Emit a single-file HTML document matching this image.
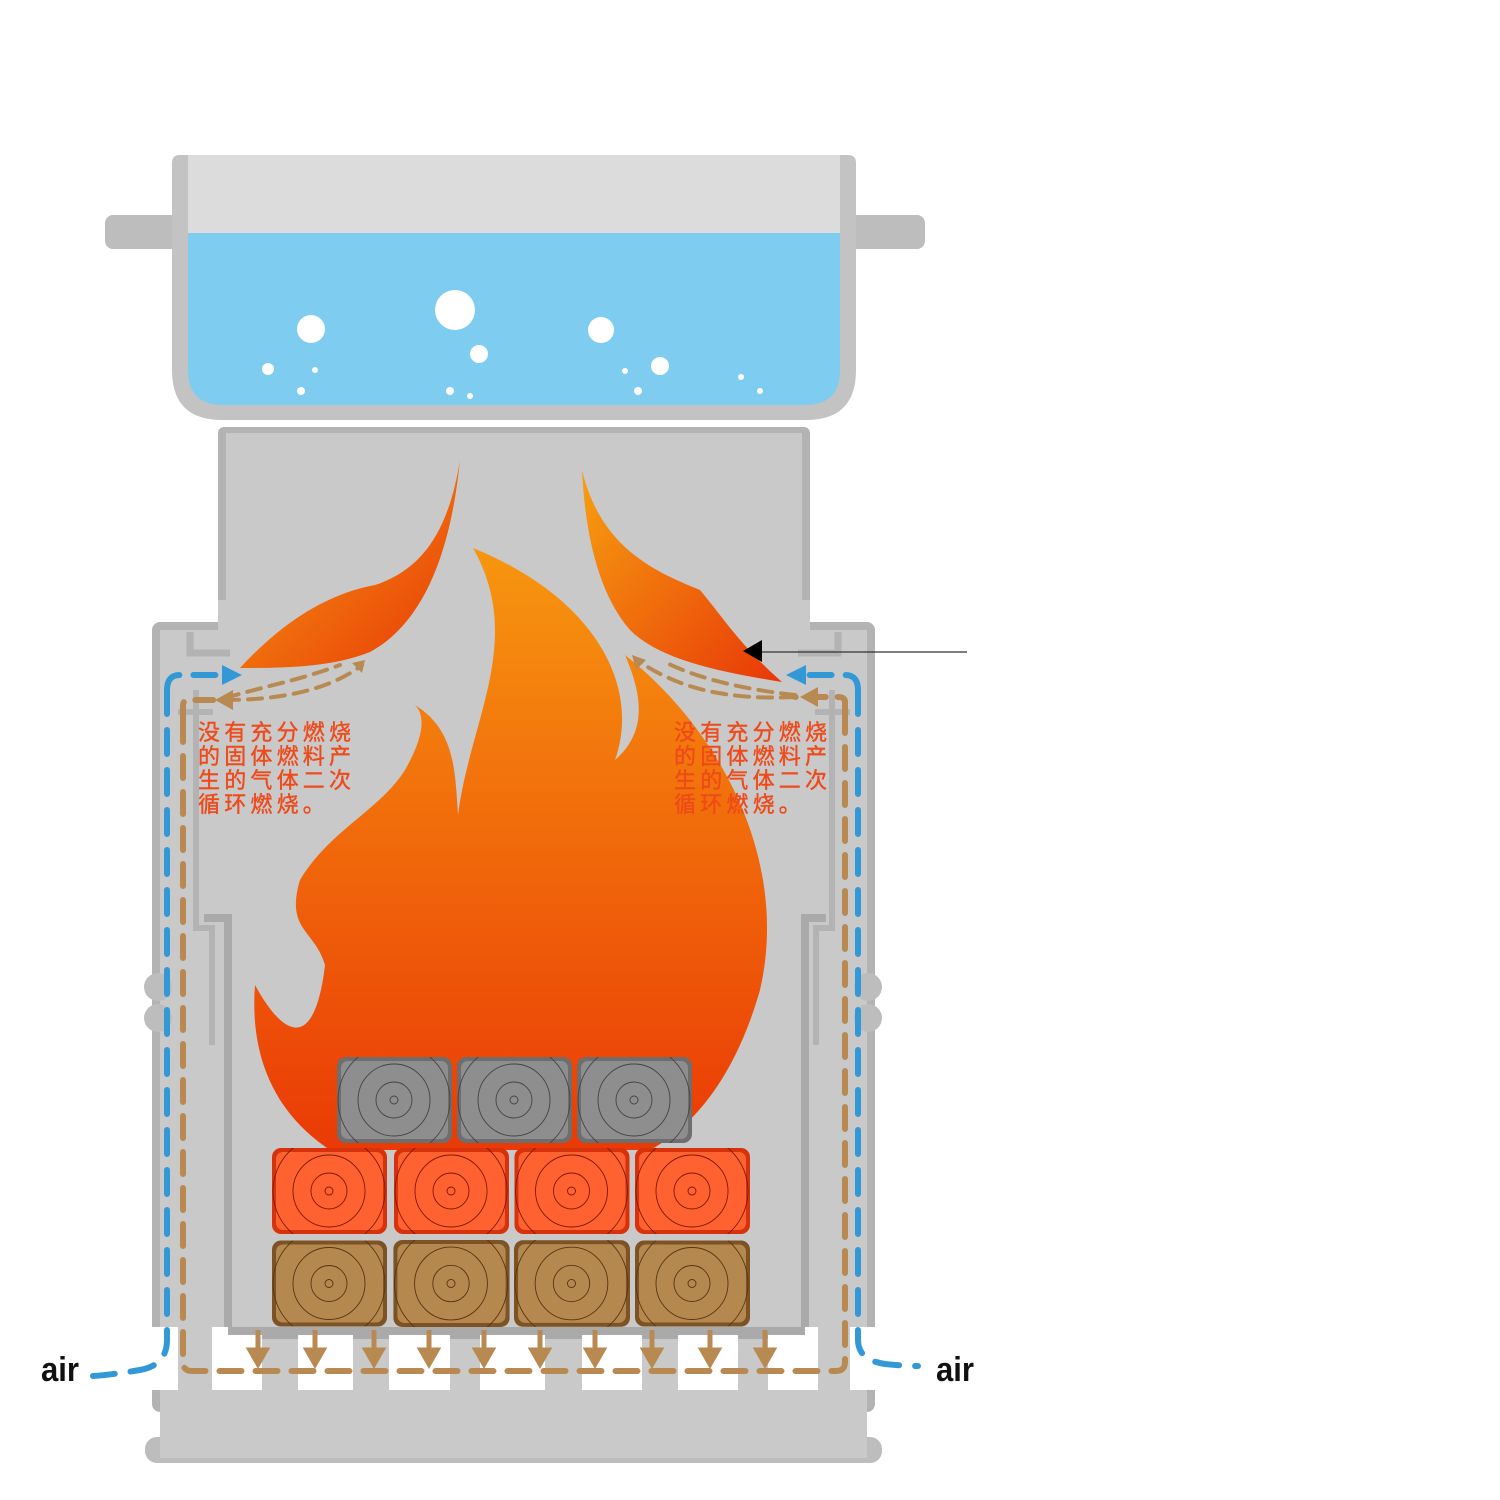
<!DOCTYPE html>
<html><head><meta charset="utf-8"><style>html,body{margin:0;padding:0;background:#fff}svg{display:block}</style></head>
<body>
<svg width="1500" height="1500" viewBox="0 0 1500 1500" xmlns="http://www.w3.org/2000/svg">
<defs>
<linearGradient id="fg" x1="0" y1="0" x2="0" y2="1"><stop offset="0" stop-color="#f7960f"/><stop offset="1" stop-color="#ea3a06"/></linearGradient>
<linearGradient id="sg" x1="0" y1="0" x2="1" y2="1"><stop offset="0" stop-color="#f7a010"/><stop offset="1" stop-color="#e83808"/></linearGradient>
<clipPath id="lc"><rect x="0" y="0" width="115" height="86" rx="9"/></clipPath>
<symbol id="lg" viewBox="0 0 115 86"><g clip-path="url(#lc)"><rect width="115" height="86" fill="#6e6e6e"/><rect x="4" y="4" width="107" height="78" rx="7" fill="#8e8e8e"/></g><g fill="none" stroke="#444" stroke-width="0.9" clip-path="url(#lc)"><circle cx="57" cy="43" r="4"/><circle cx="57" cy="43" r="18"/><circle cx="57" cy="43" r="36"/><circle cx="57" cy="43" r="56"/></g></symbol>
<symbol id="lr" viewBox="0 0 115 86"><g clip-path="url(#lc)"><rect width="115" height="86" fill="#d8320c"/><rect x="4" y="4" width="107" height="78" rx="7" fill="#ff6230"/></g><g fill="none" stroke="#7a1a05" stroke-width="0.9" clip-path="url(#lc)"><circle cx="57" cy="43" r="4"/><circle cx="57" cy="43" r="18"/><circle cx="57" cy="43" r="36"/><circle cx="57" cy="43" r="56"/></g></symbol>
<symbol id="lb" viewBox="0 0 115 86"><g clip-path="url(#lc)"><rect width="115" height="86" fill="#7d5224"/><rect x="4" y="4" width="107" height="78" rx="7" fill="#b4884f"/></g><g fill="none" stroke="#5a3510" stroke-width="0.9" clip-path="url(#lc)"><circle cx="57" cy="43" r="4"/><circle cx="57" cy="43" r="18"/><circle cx="57" cy="43" r="36"/><circle cx="57" cy="43" r="56"/></g></symbol>
</defs>

<!-- pot -->
<rect x="105" y="215" width="75" height="34" rx="8" fill="#bdbdbd"/>
<rect x="850" y="215" width="75" height="34" rx="8" fill="#bdbdbd"/>
<path d="M172 163 Q172 155 180 155 L848 155 Q856 155 856 163 L856 370 Q856 420 806 420 L222 420 Q172 420 172 370 Z" fill="#c3c3c3"/>
<rect x="188" y="155" width="652" height="80" fill="#dcdcdc"/>
<path d="M188 233 L840 233 L840 370 Q840 405 805 405 L223 405 Q188 405 188 370 Z" fill="#7ecdf1"/>
<g fill="#fff">
<circle cx="311" cy="329" r="14"/><circle cx="455" cy="310" r="20"/><circle cx="601" cy="330" r="13"/><circle cx="479" cy="354" r="9"/><circle cx="660" cy="366" r="9"/>
<circle cx="268" cy="369" r="6"/><circle cx="301" cy="391" r="4"/><circle cx="315" cy="370" r="3"/><circle cx="450" cy="391" r="4"/><circle cx="470" cy="396" r="3"/><circle cx="625" cy="371" r="3"/><circle cx="638" cy="391" r="4"/><circle cx="741" cy="377" r="3"/><circle cx="760" cy="391" r="3"/>
</g>

<!-- chimney -->
<rect x="218" y="427" width="592" height="240" rx="6" fill="#b3b3b3"/>
<rect x="226" y="433" width="576" height="240" fill="#c9c9c9"/>

<!-- body -->
<rect x="152" y="622" width="723" height="790" rx="8" fill="#b3b3b3"/>
<rect x="160" y="630" width="707" height="780" fill="#c9c9c9"/>
<rect x="218" y="600" width="592" height="40" fill="#c9c9c9"/>
<path d="M190 632 L190 653 L230 653" fill="none" stroke="#b3b3b3" stroke-width="7"/>
<path d="M838 632 L838 653 L798 653" fill="none" stroke="#b3b3b3" stroke-width="7"/>
<!-- inner walls -->
<path d="M178 712 L213 712" stroke="#b3b3b3" stroke-width="6"/>
<path d="M815 712 L850 712" stroke="#b3b3b3" stroke-width="6"/>
<path d="M196 690 L196 928 L212 928 L212 1045" fill="none" stroke="#b3b3b3" stroke-width="6"/>
<path d="M832 690 L832 928 L816 928 L816 1045" fill="none" stroke="#b3b3b3" stroke-width="6"/>
<path d="M204 918 L228 918 L228 1325 Q228 1335 238 1335 L795 1335 Q805 1335 805 1325 L805 918 L826 918" fill="none" stroke="#aaaaaa" stroke-width="8"/>
<circle cx="158" cy="987" r="14" fill="#bdbdbd"/><circle cx="158" cy="1018" r="14" fill="#bdbdbd"/>
<circle cx="868" cy="987" r="14" fill="#bdbdbd"/><circle cx="868" cy="1018" r="14" fill="#bdbdbd"/>
<!-- base -->
<rect x="145" y="1437" width="737" height="26" rx="12" fill="#bdbdbd"/>
<rect x="160" y="1390" width="707" height="68" fill="#c9c9c9"/>
<!-- vents -->
<g fill="#fff">
<rect x="152" y="1327" width="26" height="63"/>
<rect x="212" y="1327" width="50" height="63"/>
<rect x="298" y="1327" width="55" height="63"/>
<rect x="389" y="1327" width="61" height="63"/>
<rect x="480" y="1327" width="65" height="63"/>
<rect x="582" y="1327" width="60" height="63"/>
<rect x="678" y="1327" width="60" height="63"/>
<rect x="768" y="1327" width="50" height="63"/>
<rect x="850" y="1327" width="25" height="63"/>
</g>
<rect x="228" y="1327" width="577" height="8" fill="#aaaaaa"/>

<!-- flames -->
<path d="M473 548 C600 600 640 690 615 760 C650 730 640 690 625 655 C720 730 790 860 760 990 C740 1060 705 1120 650 1150 L330 1150 C270 1110 250 1050 255 985 C285 1040 315 1050 325 965 C315 930 285 930 300 880 C330 830 380 810 405 770 C425 735 425 715 415 705 C455 730 455 770 458 815 C470 720 525 640 473 548 Z" fill="url(#fg)"/>
<path d="M460 460 C450 560 420 625 370 652 C330 668 280 668 240 668 C275 630 320 595 375 585 C420 570 448 535 460 460 Z" fill="url(#sg)"/>
<path d="M582 470 C600 545 650 570 700 590 C725 620 740 645 782 682 C720 672 660 660 630 630 C597 592 585 530 582 470 Z" fill="url(#sg)"/>

<!-- logs -->
<use href="#lg" x="337" y="1057" width="115" height="86"/>
<use href="#lg" x="457" y="1057" width="115" height="86"/>
<use href="#lg" x="577" y="1057" width="115" height="86"/>
<use href="#lr" x="272" y="1148" width="115" height="86"/>
<use href="#lr" x="393" y="1148" width="117" height="86"/>
<use href="#lr" x="514" y="1148" width="116" height="86"/>
<use href="#lr" x="635" y="1148" width="115" height="86"/>
<use href="#lb" x="272" y="1240" width="115" height="87"/>
<use href="#lb" x="393" y="1240" width="117" height="87"/>
<use href="#lb" x="514" y="1240" width="116" height="87"/>
<use href="#lb" x="635" y="1240" width="115" height="87"/>

<!-- brown down arrows -->
<g stroke="#b88a52" stroke-width="5" fill="#b88a52">
<line x1="258" y1="1330" x2="258" y2="1352"/><path d="M250 1350 L266 1350 L258 1364 Z"/>
<line x1="315" y1="1330" x2="315" y2="1352"/><path d="M307 1350 L323 1350 L315 1364 Z"/>
<line x1="374" y1="1330" x2="374" y2="1352"/><path d="M366 1350 L382 1350 L374 1364 Z"/>
<line x1="429" y1="1330" x2="429" y2="1352"/><path d="M421 1350 L437 1350 L429 1364 Z"/>
<line x1="484" y1="1330" x2="484" y2="1352"/><path d="M476 1350 L492 1350 L484 1364 Z"/>
<line x1="540" y1="1330" x2="540" y2="1352"/><path d="M532 1350 L548 1350 L540 1364 Z"/>
<line x1="595" y1="1330" x2="595" y2="1352"/><path d="M587 1350 L603 1350 L595 1364 Z"/>
<line x1="652" y1="1330" x2="652" y2="1352"/><path d="M644 1350 L660 1350 L652 1364 Z"/>
<line x1="710" y1="1330" x2="710" y2="1352"/><path d="M702 1350 L718 1350 L710 1364 Z"/>
<line x1="765" y1="1330" x2="765" y2="1352"/><path d="M757 1350 L773 1350 L765 1364 Z"/>
</g>

<!-- dashed paths -->
<g fill="none" stroke-linecap="round" stroke-width="6">
<path d="M183 720 L183 1362 Q183 1371 192 1371 L836 1371 Q845 1371 845 1362 L845 710" stroke="#b88a52" stroke-dasharray="22 14"/>
<path d="M183 720 L183 705 Q183 700 190 700 L225 700" stroke="#b88a52" stroke-dasharray="18 12"/>
<path d="M845 710 L845 702 Q845 697 838 697 L795 697" stroke="#b88a52" stroke-dasharray="18 12"/>
<path d="M225 700 C280 700 330 690 362 665" stroke="#b88a52" stroke-width="4" stroke-dasharray="14 9"/>
<path d="M225 698 C270 685 300 680 340 665" stroke="#b88a52" stroke-width="4" stroke-dasharray="14 9"/>
<path d="M795 697 C730 700 680 690 637 660" stroke="#b88a52" stroke-width="4" stroke-dasharray="14 9"/>
<path d="M795 695 C750 690 700 680 665 662" stroke="#b88a52" stroke-width="4" stroke-dasharray="14 9"/>
<path d="M167 690 L167 1340 Q167 1365 140 1370 Q110 1375 93 1376" stroke="#3399d6" stroke-dasharray="24 16"/>
<path d="M167 690 Q167 675 180 675 L225 675" stroke="#3399d6" stroke-dasharray="22 14"/>
<path d="M858 690 L858 1340 Q858 1360 885 1364 Q905 1366 918 1366" stroke="#3399d6" stroke-dasharray="24 16"/>
<path d="M858 690 Q858 675 845 675 L800 675" stroke="#3399d6" stroke-dasharray="22 14"/>
</g>
<path d="M222 665 L242 675 L222 685 Z" fill="#3399d6"/>
<path d="M806 665 L786 675 L806 685 Z" fill="#3399d6"/>
<path d="M215 700 L233 690 L233 710 Z" fill="#b88a52"/>
<path d="M800 697 L818 687 L818 707 Z" fill="#b88a52"/>
<path d="M365 660 L352 663 L362 673 Z" fill="#b88a52"/>
<path d="M632 655 L646 660 L636 670 Z" fill="#b88a52"/>

<!-- arrow -->
<line x1="967" y1="652" x2="762" y2="652" stroke="#333" stroke-width="1.3"/>
<path d="M743 651 L762 640 L762 662 Z" fill="#000"/>

<!-- texts -->
<g font-family="'Liberation Sans','Noto Sans CJK SC',sans-serif" font-size="22" fill="#ee4a1a" letter-spacing="4.2" stroke="#ee4a1a" stroke-width="0.4">
<text x="198" y="740">没有充分燃烧</text>
<text x="198" y="764">的固体燃料产</text>
<text x="198" y="788">生的气体二次</text>
<text x="198" y="812">循环燃烧。</text>
<text x="674" y="740">没有充分燃烧</text>
<text x="674" y="764">的固体燃料产</text>
<text x="674" y="788">生的气体二次</text>
<text x="674" y="812">循环燃烧。</text>
</g>
<g font-family="'Liberation Sans',sans-serif" font-size="34" font-weight="bold" fill="#111">
<text x="41" y="1381" textLength="38" lengthAdjust="spacingAndGlyphs">air</text>
<text x="936" y="1381" textLength="38" lengthAdjust="spacingAndGlyphs">air</text>
</g>
</svg>
</body></html>
